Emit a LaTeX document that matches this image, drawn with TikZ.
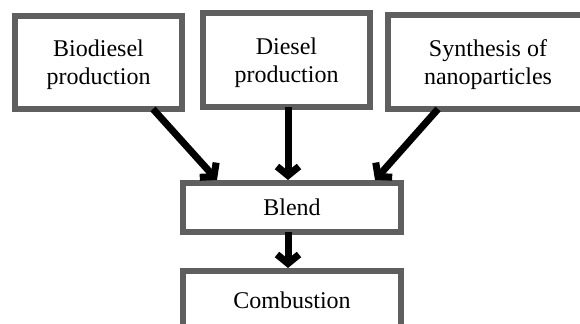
\documentclass[tikz,border=0pt]{standalone}
\usepackage{fontspec}
\setmainfont{Liberation Serif}
\usetikzlibrary{arrows.meta,positioning}
\definecolor{boxgray}{RGB}{95,95,95}

\begin{document}
\begin{tikzpicture}[x=0.5pt, y=-0.5pt, ->, >={Straight Barb[length=4.5pt,width=11pt]}, line width=3.5pt, node distance=19.5pt, font=\fontsize{12}{14}\selectfont]
				\tikzset{every node/.style={inner sep=0pt, outer sep=0pt}}
				\tikzstyle{stepbox}=[rectangle, draw=boxgray, line width=3pt, fill=white, text=black, align=center]
				\tikzstyle{twoline}=[text height=24.7pt, text depth=2.6pt]

				\useasboundingbox (0,0) rectangle (580,324);
				\clip (0,0) rectangle (580,324);

				%CAJAS
				\node[stepbox, twoline, minimum width=83.5pt, minimum height=46.5pt]	(bio) at (98.5,62.5)	{Biodiesel\\production};
				\node[stepbox, twoline, minimum width=83.5pt, minimum height=47pt]	(dsl) at (286.5,60)	{Diesel\\production};
				\node[stepbox, twoline, minimum width=100pt, minimum height=47pt]	(nano) at (488,62)	{Synthesis of\\nanoparticles};
				\node[stepbox, minimum width=109pt, minimum height=24.5pt]	(blend) at (292,207.5)	{Blend};
				\node[stepbox, minimum width=109pt, minimum height=29pt]	(comb) [below=of blend]	{Combustion};

				%FLECHAS
				\path
					([xshift=27.25pt]bio.south)	edge	([xshift=-37.5pt,yshift=1.5pt]blend.north)
					([xshift=0.75pt]dsl.south)	edge	([xshift=-2pt,yshift=1.5pt]blend.north)
					([xshift=-25pt]nano.south)	edge	([xshift=41.5pt,yshift=1.5pt]blend.north)
					([xshift=-2pt]blend.south)	edge	([xshift=-2pt,yshift=1.5pt]comb.north);
\end{tikzpicture}
\end{document}
